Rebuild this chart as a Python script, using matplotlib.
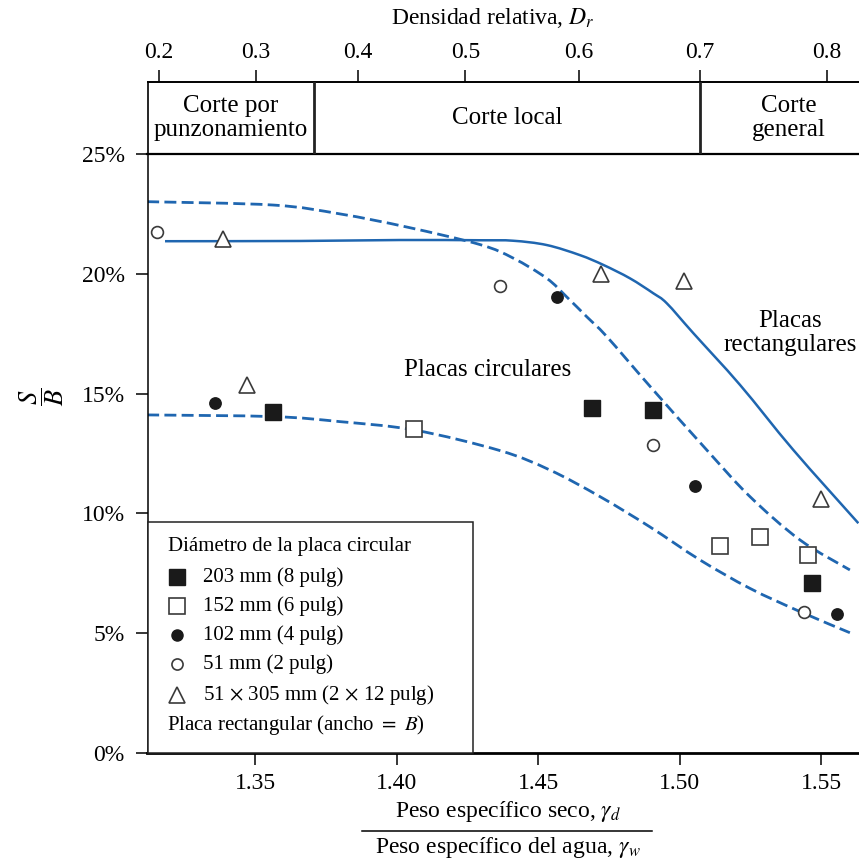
import numpy as np
import matplotlib
matplotlib.use('Agg')
import matplotlib.pyplot as plt
from matplotlib.lines import Line2D
from matplotlib.patches import Rectangle, PathPatch
from matplotlib.path import Path

plt.rcParams['font.family'] = ['Liberation Serif', 'DejaVu Serif']
plt.rcParams['mathtext.fontset'] = 'stix'

# ---------------- data ----------------
sq_filled_x = [1.3564, 1.4689, 1.4904, 1.5466]
sq_filled_y = [14.25, 14.39, 14.32, 7.08]
sq_open_x = [1.4062, 1.5141, 1.5283, 1.5454]
sq_open_y = [13.51, 8.64, 9.03, 8.28]
circ_filled_x = [1.3358, 1.4565, 1.5053, 1.5556]
circ_filled_y = [14.59, 19.04, 11.16, 5.80]
circ_open_x = [1.3154, 1.4365, 1.4906, 1.5439]
circ_open_y = [21.76, 19.49, 12.85, 5.88]
tri_x = [1.3385, 1.3472, 1.4722, 1.5016, 1.5499]
tri_y = [21.44, 15.35, 19.99, 19.71, 10.60]

rect_x = [1.3181, 1.3658, 1.4011, 1.4294, 1.4411, 1.4530, 1.4647, 1.4730,
          1.4824, 1.4906, 1.4954, 1.5048, 1.5213, 1.5401, 1.5631]
rect_y = [21.36, 21.37, 21.41, 21.40, 21.38, 21.20, 20.78, 20.37,
          19.81, 19.19, 18.77, 17.52, 15.36, 12.65, 9.59]

circ_up_x = [1.3118, 1.3563, 1.3799, 1.4036, 1.4294, 1.4412, 1.4530, 1.4600,
             1.4671, 1.4742, 1.4895, 1.5095, 1.5248, 1.5425, 1.5601]
circ_up_y = [23.01, 22.87, 22.50, 21.95, 21.22, 20.65, 19.81, 19.04,
             18.21, 17.38, 15.30, 12.65, 10.70, 8.89, 7.64]

circ_lo_x = [1.3118, 1.3564, 1.3799, 1.4062, 1.4365, 1.4541, 1.4718, 1.4894,
             1.5071, 1.5248, 1.5425, 1.5601]
circ_lo_y = [14.11, 14.04, 13.83, 13.48, 12.62, 11.81, 10.70, 9.44,
             8.06, 6.87, 5.90, 5.02]

x_ticks = [1.35, 1.40, 1.45, 1.50, 1.55]
x_ticklabels = ['1.35', '1.40', '1.45', '1.50', '1.55']
y_ticks = [0, 5, 10, 15, 20, 25]
y_ticklabels = ['0%', '5%', '10%', '15%', '20%', '25%']
dr_ticks = [0.2, 0.3, 0.4, 0.5, 0.6, 0.7, 0.8]
dr_ticklabels = ['0.2', '0.3', '0.4', '0.5', '0.6', '0.7', '0.8']
zone_bounds_dr = [0.358, 0.7]
zone_labels = ['Corte por\npunzonamiento', 'Corte local', 'Corte\ngeneral']

legend_title = 'Diámetro de la placa circular'
legend_labels = ['203 mm (8 pulg)', '152 mm (6 pulg)', '102 mm (4 pulg)',
                 '51 mm (2 pulg)', r'51 $\times$ 305 mm (2 $\times$ 12 pulg)']
legend_footer = r'Placa rectangular (ancho $=$ $B$)'

g_min, g_max = 1.2523, 1.6509


def g2dr(g):
    g = np.asarray(g, dtype=float)
    with np.errstate(divide='ignore', invalid='ignore'):
        return g_max * (g - g_min) / (g * (g_max - g_min))


def dr2g(d):
    d = np.asarray(d, dtype=float)
    with np.errstate(divide='ignore', invalid='ignore'):
        return 1.0 / (1.0 / g_min - d * (1.0 / g_min - 1.0 / g_max))


def smooth_path(xs, ys):
    """Bezier path through the read points (Catmull-Rom style tangents)."""
    P = np.column_stack([xs, ys]).astype(float)
    n = len(P)
    verts = [P[0]]
    codes = [Path.MOVETO]
    for i in range(n - 1):
        p0 = P[i - 1] if i > 0 else P[i]
        p1 = P[i]
        p2 = P[i + 1]
        p3 = P[i + 2] if i + 2 < n else P[i + 1]
        c1 = p1 + (p2 - p0) / 6.0
        c2 = p2 - (p3 - p1) / 6.0
        verts += [c1, c2, p2]
        codes += [Path.CURVE4] * 3
    return Path(verts, codes)


# ---------------- figure ----------------
W = 859
fig = plt.figure(figsize=(8.59, 8.59), dpi=100)

left_px, right_px, bot_px, top_px, boxtop_px = 147.5, 879.0, 753.0, 154.0, 81.7
ax = fig.add_axes([left_px / W, (W - bot_px) / W, (right_px - left_px) / W,
                   (bot_px - top_px) / W])
axb = fig.add_axes([left_px / W, (W - top_px) / W, (right_px - left_px) / W,
                    (top_px - boxtop_px) / W])

xlim = (1.31191, 1.57039)
ax.set_xlim(*xlim)
ax.set_ylim(0, 25)
axb.set_xlim(*xlim)
axb.set_ylim(0, 1)

blue = '#1f66b0'
ax.add_patch(PathPatch(smooth_path(rect_x, rect_y), fill=False, edgecolor=blue,
                       lw=1.8, capstyle='butt'))
ax.add_patch(PathPatch(smooth_path(circ_up_x, circ_up_y), fill=False, edgecolor=blue,
                       lw=2.0, linestyle=(0, (4.3, 1.9)), capstyle='butt'))
ax.add_patch(PathPatch(smooth_path(circ_lo_x, circ_lo_y), fill=False, edgecolor=blue,
                       lw=2.0, linestyle=(0, (4.3, 1.9)), capstyle='butt'))

dark = '#1a1a1a'
edge = '#3a3a3a'
ax.plot(sq_filled_x, sq_filled_y, 's', ms=11.5, mfc=dark, mec=dark, ls='none')
ax.plot(sq_open_x, sq_open_y, 's', ms=11.5, mfc='white', mec=edge, mew=1.2, ls='none')
ax.plot(circ_filled_x, circ_filled_y, 'o', ms=8.2, mfc=dark, mec=dark, ls='none')
ax.plot(circ_open_x, circ_open_y, 'o', ms=8.5, mfc='white', mec=edge, mew=1.2, ls='none')
ax.plot(tri_x, tri_y, '^', ms=11, mfc='white', mec=edge, mew=1.2, ls='none')

ax.text(1.4322, 15.98, 'Placas circulares', fontsize=18, ha='center', va='center')
ax.text(1.5391, 17.53, 'Placas\nrectangulares', fontsize=18, ha='center',
        va='center', linespacing=1.15)

# axes styling
ax.set_xticks(x_ticks)
ax.set_xticklabels(x_ticklabels)
ax.set_yticks(y_ticks)
ax.set_yticklabels(y_ticklabels)
ax.tick_params(axis='x', direction='out', length=8.5, width=1.1, labelsize=17, pad=6)
ax.tick_params(axis='y', direction='out', length=8.5, width=1.1, labelsize=17, pad=8)
ax.spines['right'].set_visible(False)
ax.spines['bottom'].set_linewidth(2.0)
ax.spines['left'].set_linewidth(1.1)
ax.spines['top'].set_linewidth(1.6)

# zone box
axb.set_yticks([])
axb.set_xticks([])
axb.spines['right'].set_visible(False)
axb.spines['bottom'].set_visible(False)
axb.spines['top'].set_visible(False)
axb.spines['left'].set_linewidth(1.2)
axb.patch.set_alpha(0)
bounds_g = [float(dr2g(d)) for d in zone_bounds_dr]
for bg in bounds_g:
    axb.axvline(bg, color='#222222', lw=2.0)
edges_g = [xlim[0]] + bounds_g + [xlim[1]]
for i, lab in enumerate(zone_labels):
    xm = 0.5 * (edges_g[i] + edges_g[i + 1])
    axb.text(xm, 0.5, lab, fontsize=18, ha='center', va='center', linespacing=1.1)

sec = axb.secondary_xaxis('top', functions=(g2dr, dr2g))
sec.set_xticks(dr_ticks)
sec.set_xticklabels(dr_ticklabels)
sec.tick_params(direction='out', length=8.5, width=1.1, labelsize=17, pad=5)
sec.spines['top'].set_linewidth(1.4)

fig.text(493 / W, 1 - 18 / W, r'Densidad relativa, $D_r$', fontsize=17,
         ha='center', va='center')

# y label
fig.text(42 / W, 1 - 397 / W, r'$\dfrac{S}{B}$', fontsize=19, rotation=90,
         ha='center', va='center')

# x label as fraction
fig.text(508 / W, 1 - 812 / W, r'Peso específico seco, $\gamma_d$', fontsize=17,
         ha='center', va='center')
fig.text(508 / W, 1 - 848 / W, r'Peso específico del agua, $\gamma_w$', fontsize=17,
         ha='center', va='center')
fig.add_artist(Line2D([362 / W, 652 / W], [1 - 831 / W, 1 - 831 / W],
                      transform=fig.transFigure, color='black', lw=1.1))

# legend (manual)
axw = right_px - left_px
axh = bot_px - top_px
fx = lambda px: (px - left_px) / axw
fy = lambda py: (bot_px - py) / axh
ax.add_patch(Rectangle((0, 0), fx(473.3), fy(521.7), transform=ax.transAxes,
                       facecolor='white', edgecolor='#222222', lw=1.1, zorder=5,
                       clip_on=False))
ax.text(fx(168), fy(546.7), legend_title, transform=ax.transAxes, fontsize=15,
        ha='left', va='center', zorder=6)
rows_y = [576.7, 605.7, 635.0, 664.3, 695.0]
styles = [dict(marker='s', ms=11, mfc=dark, mec=dark),
          dict(marker='s', ms=11, mfc='white', mec=edge, mew=1.2),
          dict(marker='o', ms=8, mfc=dark, mec=dark),
          dict(marker='o', ms=8, mfc='white', mec=edge, mew=1.2),
          dict(marker='^', ms=11, mfc='white', mec=edge, mew=1.2)]
for ry, lab, st in zip(rows_y, legend_labels, styles):
    ax.plot([fx(176.7)], [fy(ry)], transform=ax.transAxes, ls='none',
            clip_on=False, zorder=6, **st)
    ax.text(fx(203.3), fy(ry), lab, transform=ax.transAxes, fontsize=15,
            ha='left', va='center', zorder=6)
ax.text(fx(166.7), fy(725), legend_footer, transform=ax.transAxes, fontsize=15,
        ha='left', va='center', zorder=6)

fig.savefig('out.png', dpi=100)
